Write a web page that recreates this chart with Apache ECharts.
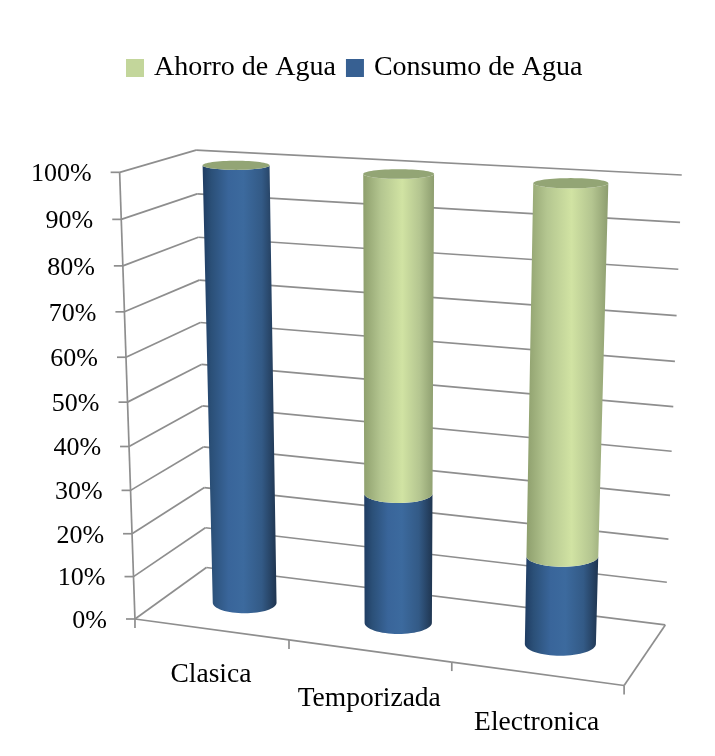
<!DOCTYPE html>
<html><head><meta charset="utf-8">
<style>html,body{margin:0;padding:0;background:#fff}#c{width:715px;height:756px}</style>
<script src="https://cdn.jsdelivr.net/npm/echarts@6/dist/echarts.min.js"></script>
</head><body><div id="c"></div>
<script>
const categories = ['Clasica', 'Temporizada', 'Electronica'];
const consumo = [100, 30, 20];
const ahorro = [0, 70, 80];
const yTicks = [0, 10, 20, 30, 40, 50, 60, 70, 80, 90, 100];
const yTickLabels = ['0%', '10%', '20%', '30%', '40%', '50%', '60%', '70%', '80%', '90%', '100%'];

const FONT = '"Liberation Serif", serif';
const FS_AXIS = 26, FS_CAT = 27.5, FS_LEG = 28;
const LINE = '#8e8e8e';
const G = {left: 100, top: 100, width: 500, height: 500};

// camera calibration: unit-box corner -> where the picture puts it
const VIEW = [
  [0,0,0, 135,619],[0,1,0, 119.5,173],[0,1,1, 196,150],[1,1,1, 682,175],
  [1,0,1, 665,624.5],[1,0,0, 624,686],[0,0,1, 206.5,568],
  [1/3,0,0, 289,640],[2/3,0,0, 452,662],[0,.5,0, 127.5,401]
];
function solve(A,b){const n=b.length;for(let i=0;i<n;i++){let p=i;for(let r=i+1;r<n;r++)if(Math.abs(A[r][i])>Math.abs(A[p][i]))p=r;
  [A[i],A[p]]=[A[p],A[i]];[b[i],b[p]]=[b[p],b[i]];for(let r=i+1;r<n;r++){const f=A[r][i]/A[i][i];for(let c=i;c<n;c++)A[r][c]-=f*A[i][c];b[r]-=f*b[i];}}
  const x=Array(n).fill(0);for(let i=n-1;i>=0;i--){let s=b[i];for(let c=i+1;c<n;c++)s-=A[i][c]*x[c];x[i]=s/A[i][i];}return x;}
const M=(function(){const rows=[],rhs=[];VIEW.forEach(([x,y,z,u,v])=>{
  rows.push([x,y,z,1,0,0,0,0,-u*x,-u*y,-u*z]);rhs.push(u);
  rows.push([0,0,0,0,x,y,z,1,-v*x,-v*y,-v*z]);rhs.push(v);});
  const A=Array.from({length:11},()=>Array(11).fill(0)),b=Array(11).fill(0);
  rows.forEach((r,k)=>{for(let i=0;i<11;i++){b[i]+=r[i]*rhs[k];for(let j=0;j<11;j++)A[i][j]+=r[i]*r[j];}});
  return solve(A,b);})();
function proj(x,y,z){const w=M[8]*x+M[9]*y+M[10]*z+1;return [(M[0]*x+M[1]*y+M[2]*z+M[3])/w,(M[4]*x+M[5]*y+M[6]*z+M[7])/w];}
function unit(api,cat,val){const p=api.coord([cat,val]);return [(p[0]-G.left)/G.width,(G.top+G.height-p[1])/G.height];}
const line=(a,b,w)=>({type:'line',shape:{x1:a[0],y1:a[1],x2:b[0],y2:b[1]},style:{stroke:LINE,lineWidth:w||1.7}});
const text=(s,x,y,align,fs)=>({type:'text',style:{text:s,x,y,align,verticalAlign:'middle',fontFamily:FONT,fontSize:fs,fill:'#000'}});

const BLUE={type:'linear',x:0,y:0,x2:1,y2:0,colorStops:[{offset:0,color:'#1f3c62'},{offset:.12,color:'#2b5078'},{offset:.35,color:'#39659a'},{offset:.55,color:'#3c6a9e'},{offset:.8,color:'#335a86'},{offset:1,color:'#1f3550'}]};
const GREEN={type:'linear',x:0,y:0,x2:1,y2:0,colorStops:[{offset:0,color:'#8e9f6d'},{offset:.25,color:'#b4c690'},{offset:.55,color:'#d1e3a3'},{offset:.8,color:'#b4c590'},{offset:1,color:'#8d9d6f'}]};
const TOP='#93a575';
const RX=0.0705, RZ=0.2, ZC=0.485, N=32;

// level ellipse round the cylinder axis at one height
function ring(cx,v){
  const c=proj(cx,v,ZC),l=proj(cx-RX,v,ZC),r=proj(cx+RX,v,ZC),f=proj(cx,v,ZC-RZ),b=proj(cx,v,ZC+RZ);
  return {c,a:Math.hypot(r[0]-l[0],r[1]-l[1])/2,b:Math.abs(f[1]-b[1])/2};
}
function cylinder(fill,withTop){return function(params,api){
  const i=api.value(0),s=unit(api,i,api.value(1)),e=unit(api,i,api.value(2));
  const R0=ring(s[0],s[1]),R1=ring(s[0],e[1]),pts=[];
  for(let k=0;k<=N;k++){const t=Math.PI*(1-k/N);pts.push([R0.c[0]+R0.a*Math.cos(t),R0.c[1]+R0.b*Math.sin(t)]);}
  for(let k=N;k>=0;k--){const t=Math.PI*(1-k/N);pts.push([R1.c[0]+R1.a*Math.cos(t),R1.c[1]+R1.b*Math.sin(t)]);}
  const kids=[{type:'polygon',shape:{points:pts},style:{fill,stroke:null}}];
  if(withTop){const c=[];for(let k=0;k<2*N;k++){const t=Math.PI*k/N;c.push([R1.c[0]+R1.a*Math.cos(t),R1.c[1]+R1.b*Math.sin(t)]);}
    kids.push({type:'polygon',shape:{points:c},style:{fill:TOP,stroke:null}});}
  return {type:'group',children:kids};
};}

function wallItem(params,api){
  const k=params.dataIndex,v=unit(api,0,api.value(0))[1];
  const a=proj(0,v,0),b=proj(0,v,1),c=proj(1,v,1);
  return {type:'group',children:[
    line(a,b),line(b,c),line([a[0]-9,a[1]],a),
    text(yTickLabels[k],a[0]-28,a[1]+2,'right',FS_AXIS)
  ]};
}
function floorItem(params,api){
  const i=api.value(0),band=api.size([1,0])[0]/G.width,cx=unit(api,i,0)[0],r=cx+band/2;
  const front=proj(cx,0,0);
  const kids=[line(proj(r,0,0),[proj(r,0,0)[0],proj(r,0,0)[1]+9]),text(categories[i],front[0],front[1]+45+5*cx,'center',FS_CAT)];
  if(i===0){const l=proj(0,0,0),t=proj(0,1,0);kids.push(line(t,l),line(l,[l[0],l[1]+9]));}
  kids.push(line(proj(cx-band/2,0,0),proj(r,0,0)));
  if(i===categories.length-1)kids.push(line(proj(1,0,0),proj(1,0,1)));
  return {type:'group',children:kids};
}

const chart=echarts.init(document.getElementById('c'));
chart.setOption({
  animation:false,
  backgroundColor:'#fff',
  grid:Object.assign({},G),
  xAxis:{type:'category',data:categories,show:false},
  yAxis:{type:'value',min:0,max:100,show:false},
  legend:{data:['Ahorro de Agua','Consumo de Agua'],left:121,top:49,itemWidth:18,itemHeight:18,itemGap:10,icon:'rect',
    textStyle:{fontFamily:FONT,fontSize:FS_LEG,color:'#000',padding:[0,0,0,5]}},
  series:[
    {type:'custom',name:'walls',silent:true,clip:false,encode:{y:0},data:yTicks.map(v=>[v]),renderItem:wallItem},
    {type:'custom',name:'floor',silent:true,clip:false,data:categories.map((c,i)=>[i]),encode:{x:0},renderItem:floorItem},
    {type:'custom',name:'Consumo de Agua',clip:false,itemStyle:{color:'#376092'},encode:{x:0,y:[1,2]},
      data:consumo.map((v,i)=>[i,0,v]),renderItem:cylinder(BLUE,false)},
    {type:'custom',name:'Ahorro de Agua',clip:false,itemStyle:{color:'#c3d69b'},encode:{x:0,y:[1,2]},
      data:ahorro.map((v,i)=>[i,consumo[i],consumo[i]+v]),renderItem:cylinder(GREEN,true)}
  ]
});
</script></body></html>
